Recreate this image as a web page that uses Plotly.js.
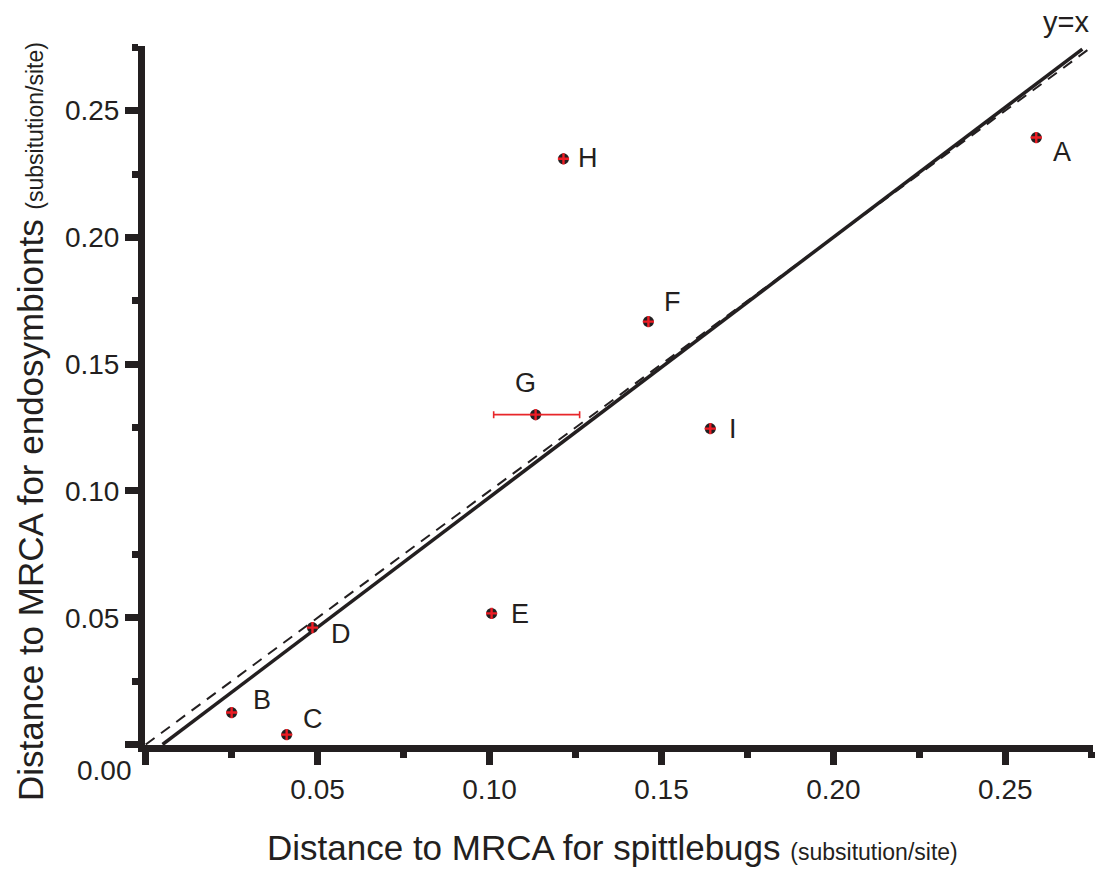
<!DOCTYPE html>
<html>
<head>
<meta charset="utf-8">
<script src="https://cdn.plot.ly/plotly-3.0.1.min.js"></script>
<style>html,body{margin:0;padding:0;background:#fff;}#chart{width:1100px;height:873px;}</style>
</head>
<body>
<div id="chart"></div>
<script>
// ---- data ----
const pointLabels = ['A','B','C','D','E','F','G','H','I'];
const spittlebugDist = [0.259, 0.025, 0.041, 0.0485, 0.1006, 0.1462, 0.1134, 0.1215, 0.1642];
const endosymbiontDist = [0.2394, 0.0126, 0.0039, 0.0461, 0.0517, 0.1668, 0.1301, 0.231, 0.1246];
const errPlus  = [null, null, null, null, null, null, 0.0128, null, null];
const errMinus = [null, null, null, null, null, null, 0.0122, null, null];
const fitX = [0.0049, 0.2724];
const fitY = [0.0, 0.2743];
const identityX = [0, 0.2745];
const identityY = [0, 0.2745];
const majorTicks = [0, 0.05, 0.10, 0.15, 0.20, 0.25];
const majorTickText = ['', '0.05', '0.10', '0.15', '0.20', '0.25'];
const minorTicks = [0.025, 0.075, 0.125, 0.175, 0.225, 0.275];

// ---- style ----
const ink = '#231f20';
const red = '#ed1c24';
const font = 'Liberation Sans, Arial, Helvetica, sans-serif';
const labelDx = [26, 30, 26, 29, 28, 24, -10, 25, 23];
const labelDy = [-14, 13, 16, -6, -1, 20, 32, 1, 0];

const L = 145, R = 7, T = 46, B = 128, W = 1100, H = 873;
const pw = W - L - R, ph = H - T - B;
const px2x = p => (p - L) / pw;
const px2y = p => 1 - (p - T) / ph;

const traces = [
  {x: identityX, y: identityY, mode: 'lines', line: {color: ink, width: 2, dash: '11px,8px'}, hoverinfo: 'skip', cliponaxis: false},
  {x: fitX, y: fitY, mode: 'lines', line: {color: ink, width: 3.5}, hoverinfo: 'skip', cliponaxis: false},
  {x: spittlebugDist, y: endosymbiontDist, mode: 'markers', cliponaxis: false,
   marker: {symbol: 'circle', size: 11, color: ink, line: {width: 0}},
   error_x: {type: 'data', symmetric: false, array: errPlus, arrayminus: errMinus, color: '#e8262a', thickness: 1.6, width: 3.5}},
  {x: spittlebugDist, y: endosymbiontDist, mode: 'markers', cliponaxis: false,
   marker: {symbol: 'cross-thin-open', size: 8, color: red, line: {width: 2.4, color: red}}}
];

const annotations = pointLabels.map((t, i) => ({
  x: spittlebugDist[i], y: endosymbiontDist[i], xref: 'x', yref: 'y', text: t, showarrow: false,
  xshift: labelDx[i], yshift: labelDy[i], font: {family: font, size: 27, color: ink}
}));
annotations.push({x: px2x(1066), y: px2y(22), xref: 'paper', yref: 'paper', text: 'y=x', showarrow: false,
  xanchor: 'center', yanchor: 'middle', font: {family: font, size: 29, color: ink}});
annotations.push({x: px2x(134), y: px2y(770), xref: 'paper', yref: 'paper', text: '0.00', showarrow: false,
  xanchor: 'right', yanchor: 'middle', font: {family: font, size: 28, color: ink}});
annotations.push({xref: 'paper', yref: 'paper', x: px2x(612), y: px2y(847), xanchor: 'center', yanchor: 'middle',
  text: 'Distance to MRCA for spittlebugs <span style="font-size:23px">(subsitution/site)</span>',
  showarrow: false, font: {family: font, size: 35, color: ink}});
annotations.push({xref: 'paper', yref: 'paper', x: px2x(30), y: px2y(422), xanchor: 'center', yanchor: 'middle', textangle: -90,
  text: 'Distance to MRCA for endosymbionts <span style="font-size:23px">(subsitution/site)</span>',
  showarrow: false, font: {family: font, size: 35, color: ink}});

const axisCommon = {
  showline: true, linewidth: 7, linecolor: ink, mirror: false,
  ticks: 'outside', ticklen: 13, tickwidth: 7, tickcolor: ink,
  showgrid: false, zeroline: false, tickmode: 'array', tickvals: majorTicks, ticktext: majorTickText,
  tickfont: {family: font, size: 28, color: ink},
  minor: {tickmode: 'array', tickvals: minorTicks, ticks: 'outside', ticklen: 6, tickwidth: 7, tickcolor: ink, showgrid: false}
};

const layout = {
  width: W, height: H,
  margin: {l: L, r: R, t: T, b: B},
  paper_bgcolor: '#ffffff', plot_bgcolor: '#ffffff',
  showlegend: false,
  xaxis: Object.assign({}, axisCommon, {range: [-0.0002, 0.2755]}),
  yaxis: Object.assign({}, axisCommon, {range: [-0.0002, 0.2755]}),
  annotations: annotations
};

Plotly.newPlot('chart', traces, layout, {displayModeBar: false, staticPlot: true});
</script>
</body>
</html>
